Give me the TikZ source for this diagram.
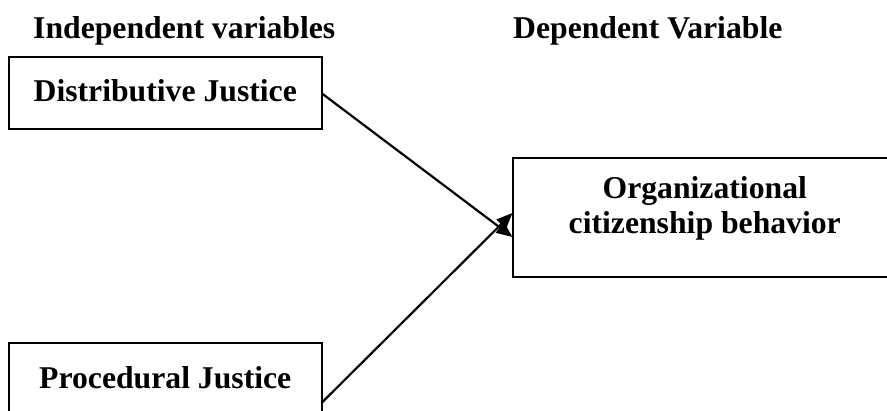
\documentclass[tikz,border=0pt]{standalone}
\usepackage{fontspec}
\setmainfont{Liberation Serif}
\usetikzlibrary{arrows.meta}
\begin{document}
\begin{tikzpicture}[x=1pt,y=-1pt,
  every node/.style={font=\fontsize{31.7}{35}\selectfont\bfseries},
  heading/.style={anchor=base west,inner sep=0pt},
  varbox/.style={draw,line width=2pt,rectangle,inner sep=0pt,outer sep=0pt},
  link/.style={line width=2.2pt,-{Triangle[length=16pt,width=13pt]}}]
  \clip (0,0) rectangle (887,411);
  \fill[white] (0,0) rectangle (887,411);

  % column headings
  \node[heading] (hin) at (33,39) {Independent variables};
  \node[heading] (hdep) at (513,39) {Dependent Variable};

  % independent variables
  \node[varbox,minimum width=312.5pt,minimum height=72pt,
        text height=16pt,text depth=0pt] (dj) at (165.25,93.15) {Distributive Justice};
  \node[varbox,minimum width=312.5pt,minimum height=72pt,
        text height=20pt,text depth=0pt] (pj) at (165.25,378.7) {Procedural Justice};

  % dependent variable (runs past the right margin)
  \node[varbox,minimum width=384.5pt,minimum height=119.5pt,
        text height=0pt,text depth=37.5pt] (ocb) at (704.75,217.75)
       {\vtop{\halign{\hfil#\hfil\cr Organizational\cr citizenship behavior\cr}}};

  % effects
  \draw[link] (dj.east) -- ([yshift=-19.25pt]ocb.west);
  \draw[link] ([yshift=11.7pt]pj.south east) -- ([yshift=4.75pt]ocb.west);
\end{tikzpicture}
\end{document}
